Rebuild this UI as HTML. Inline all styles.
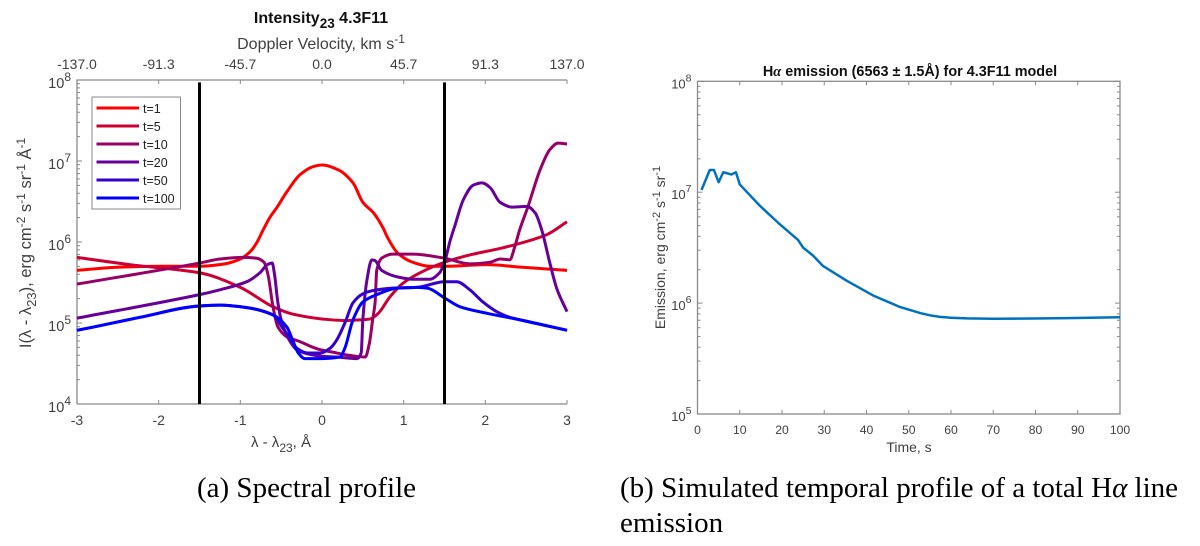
<!DOCTYPE html>
<html lang="en">
<head>
<meta charset="utf-8">
<title>Intensity and H-alpha emission for 4.3F11 model</title>
<style>
html,body{margin:0;padding:0;background:#fff;}
body{width:1200px;height:546px;overflow:hidden;}
svg{display:block;}
text{font-family:"Liberation Sans",sans-serif;fill:#404040;}
.ttl{fill:#111;font-weight:bold;}
.cap{font-family:"Liberation Serif",serif;fill:#000;font-size:29px;}
</style>
</head>
<body>
<svg id="fig" xmlns="http://www.w3.org/2000/svg" width="1200" height="546" viewBox="0 0 1200 546">
  <g id="left-chart"></g>
  <g id="right-chart"></g>

  <text class="ttl" x="321" y="23" text-anchor="middle" font-size="16">Intensity<tspan font-size="13.5" dy="5">23</tspan><tspan dy="-5"> 4.3F11</tspan></text>
  <text x="321" y="49" text-anchor="middle" font-size="16">Doppler Velocity, km s<tspan font-size="12" dy="-6">-1</tspan></text>
  <text x="281" y="447" text-anchor="middle" font-size="15">λ - λ<tspan font-size="12" dy="5">23</tspan><tspan dy="-5">, Å</tspan></text>
  <text transform="translate(31,243) rotate(-90)" text-anchor="middle" font-size="16.5">I(λ - λ<tspan font-size="13" dy="5">23</tspan><tspan dy="-5">), erg cm</tspan><tspan font-size="12" dy="-6">-2</tspan><tspan dy="6"> s</tspan><tspan font-size="12" dy="-6">-1</tspan><tspan dy="6"> sr</tspan><tspan font-size="12" dy="-6">-1</tspan><tspan dy="6"> Å</tspan><tspan font-size="12" dy="-6">-1</tspan></text>

  <text class="ttl" x="910" y="76" text-anchor="middle" font-size="14.4">H<tspan font-family="Liberation Serif" font-style="italic">α</tspan> emission (6563 ± 1.5Å) for 4.3F11 model</text>
  <text x="909" y="452" text-anchor="middle" font-size="14">Time, s</text>
  <text transform="translate(665,247.5) rotate(-90)" text-anchor="middle" font-size="14">Emission, erg cm<tspan font-size="11" dy="-5">-2</tspan><tspan dy="5"> s</tspan><tspan font-size="11" dy="-5">-1</tspan><tspan dy="5"> sr</tspan><tspan font-size="11" dy="-5">-1</tspan></text>

  <text class="cap" x="197" y="497">(a) Spectral profile</text>
  <text class="cap" x="620" y="497">(b) Simulated temporal profile of a total H<tspan font-style="italic">α</tspan> line</text>
  <text class="cap" x="620" y="532">emission</text>
</svg>

<script>
// ---- Spectral profile data (wavelength offset in Å, log10 intensity) ----
const wavelengthT1 = [-3,-2.47,-1.98,-1.5,-1.19,-1,-0.88,-0.8,-0.72,-0.64,-0.55,-0.43,-0.27,-0.11,0,0.2,0.38,0.5,0.63,0.75,0.8,0.93,1.11,1.32,1.5,2.02,2.43,3];
const logIntensityT1 = [5.65,5.69,5.7,5.7,5.73,5.79,5.88,5.99,6.15,6.3,6.43,6.62,6.83,6.93,6.95,6.89,6.73,6.49,6.36,6.17,6.06,5.86,5.75,5.7,5.7,5.72,5.69,5.65];

const wavelengthT5 = [-3,-2.35,-1.5,-1,-0.6,-0.36,0,0.28,0.49,0.59,0.69,0.83,0.99,1.2,1.5,1.81,2.22,2.75,3];
const logIntensityT5 = [5.81,5.72,5.62,5.44,5.2,5.11,5.05,5.03,5.04,5.05,5.12,5.32,5.49,5.62,5.75,5.84,5.93,6.09,6.25];

const wavelengthT10 = [-3,-1.5,-1.25,-0.97,-0.8,-0.71,-0.66,-0.6,-0.54,-0.43,-0.27,-0.11,-0.02,0.13,0.34,0.53,0.58,0.62,0.65,0.67,0.73,0.86,1.11,1.5,1.81,2.06,2.18,2.3,2.36,2.42,2.52,2.67,2.79,2.89,3];
const logIntensityT10 = [5.48,5.74,5.79,5.81,5.8,5.75,5.59,5.2,4.95,4.83,4.77,4.7,4.67,4.64,4.6,4.58,4.75,5.04,5.25,5.65,5.8,5.85,5.85,5.8,5.73,5.75,5.79,5.78,5.94,6.15,6.43,6.89,7.14,7.22,7.21];

const wavelengthT20 = [-3,-1.5,-1.25,-0.92,-0.76,-0.67,-0.61,-0.58,-0.54,-0.49,-0.39,-0.31,-0.18,0,0.18,0.43,0.48,0.5,0.55,0.61,0.65,0.73,0.92,1.11,1.32,1.44,1.5,1.57,1.63,1.73,1.85,1.96,2.06,2.18,2.33,2.51,2.61,2.69,2.79,2.88,3];
const logIntensityT20 = [5.06,5.35,5.41,5.51,5.62,5.72,5.74,5.59,5.25,5,4.77,4.67,4.62,4.59,4.58,4.56,4.63,5.04,5.53,5.78,5.77,5.65,5.57,5.54,5.54,5.62,5.75,6.02,6.21,6.52,6.7,6.73,6.67,6.49,6.43,6.44,6.36,6.15,5.74,5.41,5.14];

const wavelengthT50 = [-3,-2.8,-2.23,-1.5,-1.25,-0.92,-0.6,-0.49,-0.39,-0.31,-0.18,-0.02,0.1,0.18,0.28,0.38,0.5,0.62,0.87,1.16,1.5,1.65,1.81,1.97,2.14,2.3,2.42,3];
const logIntensityT50 = [4.91,4.95,5.07,5.21,5.22,5.19,5.1,4.95,4.81,4.69,4.63,4.63,4.69,4.79,5,5.25,5.36,5.4,5.43,5.44,5.51,5.51,5.41,5.26,5.14,5.07,5.04,4.91];

const wavelengthT100 = [-3,-2.8,-2.23,-1.5,-1.25,-0.92,-0.6,-0.43,-0.36,-0.29,-0.21,-0.02,0.22,0.28,0.38,0.5,0.67,0.92,1.16,1.29,1.5,1.69,2.02,2.42,3];
const logIntensityT100 = [4.91,4.95,5.07,5.21,5.22,5.19,5.1,4.95,4.79,4.63,4.56,4.56,4.58,4.69,5.04,5.26,5.35,5.43,5.44,5.43,5.31,5.2,5.12,5.04,4.91];

const legendLabels = ['t=1','t=5','t=10','t=20','t=50','t=100'];
const bandEdges = [-1.5, 1.5];
const bandTopLog = 7.97;
const wavelengthTicks = [-3,-2,-1,0,1,2,3];
const velocityLabels = ['-137.0','-91.3','-45.7','0.0','45.7','91.3','137.0'];
const leftDecades = [4,5,6,7,8];

// ---- Temporal emission data (seconds, log10 emission) ----
const timeSeconds = [0.95,2.9,3.9,5,6.1,8,9.1,10,14.7,19.5,23.8,25,27.3,29.7,35.4,41.5,47.9,52.7,55,57.4,60,63.8,69.9,79.4,87.5,100];
const logEmission = [7.02,7.2,7.2,7.09,7.18,7.16,7.18,7.07,6.88,6.71,6.57,6.5,6.43,6.335,6.2,6.07,5.965,5.91,5.89,5.876,5.868,5.862,5.859,5.861,5.865,5.872];
const timeTicks = [0,10,20,30,40,50,60,70,80,90,100];
const rightDecades = [5,6,7,8];

const NS = 'http://www.w3.org/2000/svg';
const AXIS = '#8a8a8a';
function mk(parent, tag, attrs, txt) {
  const el = document.createElementNS(NS, tag);
  for (const k in attrs) el.setAttribute(k, attrs[k]);
  if (txt !== undefined) el.textContent = txt;
  parent.appendChild(el);
  return el;
}

// Axis functions
const lx = v => 77 + (v + 3) * 81.667;
const ly = v => 404 - (v - 4) * 81;
const rx = v => 697.5 + v * 4.225;
const ry = v => 414 - (v - 5) * 110.9;

// Monotone cubic path through data points
function smoothPath(xs, ys) {
  const n = xs.length, d = [], m = [];
  for (let i = 0; i < n - 1; i++) d.push((ys[i+1] - ys[i]) / (xs[i+1] - xs[i]));
  m[0] = d[0]; m[n-1] = d[n-2];
  for (let i = 1; i < n - 1; i++) m[i] = d[i-1] * d[i] <= 0 ? 0 : 2 * d[i-1] * d[i] / (d[i-1] + d[i]);
  let p = 'M' + xs[0].toFixed(2) + ' ' + ys[0].toFixed(2);
  for (let i = 0; i < n - 1; i++) {
    const h = (xs[i+1] - xs[i]) / 3;
    p += 'C' + (xs[i]+h).toFixed(2) + ' ' + (ys[i]+m[i]*h).toFixed(2) + ' ' + (xs[i+1]-h).toFixed(2) + ' ' + (ys[i+1]-m[i+1]*h).toFixed(2) + ' ' + xs[i+1].toFixed(2) + ' ' + ys[i+1].toFixed(2);
  }
  return p;
}

function decadeTicks(g, decades, yf, x0, dir, withLabels, fontSize, expSize, base) {
  decades.forEach((d, i) => {
    const tick = mk(g, 'line', {x1:x0, x2:x0 + dir*5, y1:yf(d), y2:yf(d), stroke:AXIS, 'stroke-width':1});
    
    
    if (i < decades.length - 1) {
      for (let m = 2; m <= 9; m++) {
        const yy = yf(d + Math.log10(m));
        const minor = mk(g, 'line', {x1:x0, x2:x0 + dir*3, y1:yy, y2:yy, stroke:AXIS, 'stroke-width':1});
        
        
      }
    }
    if (withLabels) {
      const t = mk(g, 'text', {x:x0 - 6, y:yf(d) + base, 'text-anchor':'end', 'font-size':fontSize}, '10');
      
      
      const s = mk(t, 'tspan', {'font-size':expSize, dy:-7}, String(d));
      
      
    }
  });
}

// ---- Left chart ----
const L = document.getElementById('left-chart');
const leftSeries = [
  {x:wavelengthT1, y:logIntensityT1, c:'#ff0000', n:'series-t1'},
  {x:wavelengthT5, y:logIntensityT5, c:'#cc0033', n:'series-t5'},
  {x:wavelengthT10, y:logIntensityT10, c:'#990066', n:'series-t10'},
  {x:wavelengthT20, y:logIntensityT20, c:'#660099', n:'series-t20'},
  {x:wavelengthT50, y:logIntensityT50, c:'#3300cc', n:'series-t50'},
  {x:wavelengthT100, y:logIntensityT100, c:'#0000ff', n:'series-t100'}
];

const axL = mk(L, 'path', {d:'M' + lx(-3) + ' ' + ly(4) + 'V' + ly(8) + 'H' + lx(3) + 'M' + lx(-3) + ' ' + ly(4) + 'H' + lx(3), fill:'none', stroke:AXIS, 'stroke-width':1.3});


decadeTicks(L, leftDecades, ly, lx(-3), 1, true, 14.5, 12, 8);

wavelengthTicks.forEach((v, i) => {
  const b = mk(L, 'line', {x1:lx(v), x2:lx(v), y1:ly(4), y2:ly(4) - 4, stroke:AXIS, 'stroke-width':1});
  
  
  const tt = mk(L, 'line', {x1:lx(v), x2:lx(v), y1:ly(8), y2:ly(8) + 4, stroke:AXIS, 'stroke-width':1});
  
  
  const lb = mk(L, 'text', {x:lx(v), y:425, 'text-anchor':'middle', 'font-size':14}, String(v));
  
  
  const lt = mk(L, 'text', {x:lx(v), y:69, 'text-anchor':'middle', 'font-size':14}, velocityLabels[i]);
  
  
});

leftSeries.forEach(s => {
  const p = mk(L, 'path', {d:smoothPath(s.x.map(lx), s.y.map(ly)), fill:'none', stroke:s.c, 'stroke-width':3, 'stroke-linejoin':'round'});
  
  
});

bandEdges.forEach(v => {
  const bl = mk(L, 'line', {x1:lx(v), x2:lx(v), y1:ly(bandTopLog), y2:ly(4), stroke:'#000', 'stroke-width':3});
  
  
});

const legend = mk(L, 'g', {});


const legendBox = mk(legend, 'rect', {x:92, y:97, width:88.5, height:112, fill:'#fff', stroke:AXIS, 'stroke-width':1});


legendLabels.forEach((lab, i) => {
  const yy = 108 + i * 18;
  const sw = mk(legend, 'line', {x1:96.5, x2:139, y1:yy, y2:yy, stroke:leftSeries[i].c, 'stroke-width':3});
  
  
  const tx = mk(legend, 'text', {x:143, y:yy + 5, 'font-size':12.5, style:'fill:#222'}, lab);
  
  
});

// ---- Right chart ----
const R = document.getElementById('right-chart');
const box = mk(R, 'rect', {x:rx(0), y:ry(8), width:rx(100) - rx(0), height:ry(5) - ry(8), fill:'none', stroke:AXIS, 'stroke-width':1.3});


decadeTicks(R, rightDecades, ry, rx(0), 1, true, 13, 10.5, 7);
decadeTicks(R, rightDecades, ry, rx(100), -1, false);

timeTicks.forEach(v => {
  const b = mk(R, 'line', {x1:rx(v), x2:rx(v), y1:ry(5), y2:ry(5) - 4, stroke:AXIS, 'stroke-width':1});
  
  
  const tt = mk(R, 'line', {x1:rx(v), x2:rx(v), y1:ry(8), y2:ry(8) + 4, stroke:AXIS, 'stroke-width':1});
  
  
  const lb = mk(R, 'text', {x:rx(v), y:434, 'text-anchor':'middle', 'font-size':12.2}, String(v));
  
  
});

const emission = mk(R, 'polyline', {
  points: timeSeconds.map((t, i) => rx(t).toFixed(2) + ',' + ry(logEmission[i]).toFixed(2)).join(' '),
  fill:'none', stroke:'#0072BD', 'stroke-width':2.5, 'stroke-linejoin':'round'
});


</script>
</body>
</html>
